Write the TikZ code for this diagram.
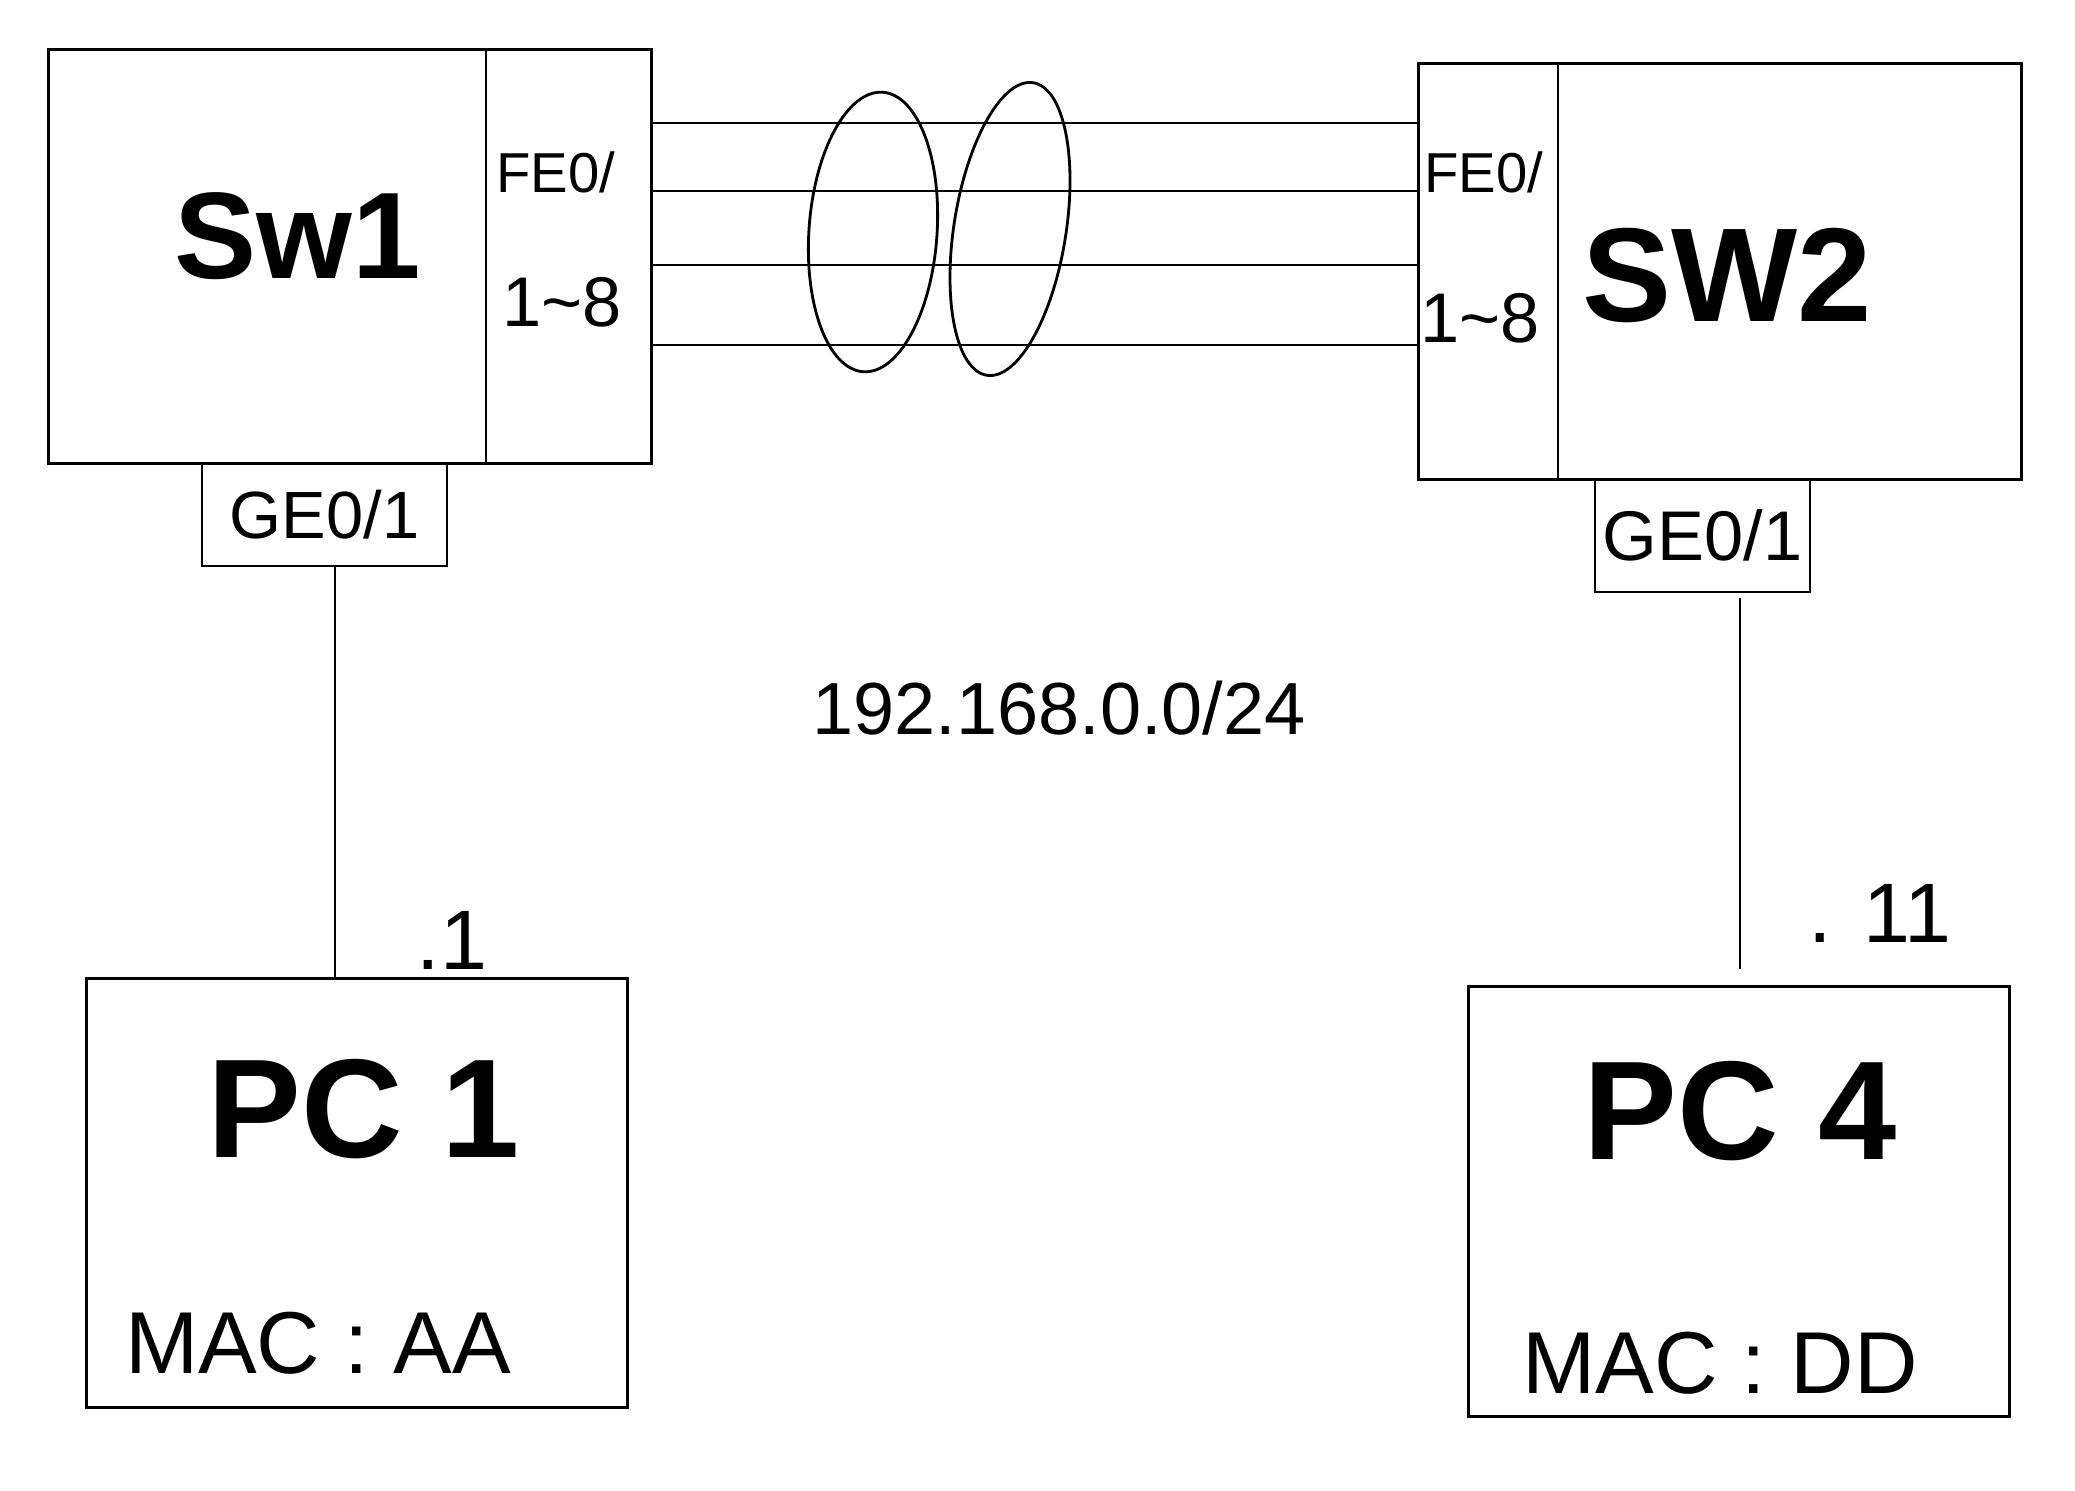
\documentclass[tikz,border=0pt]{standalone}
\usepackage{fontspec}
\setmainfont{Liberation Sans}
\usetikzlibrary{shapes.geometric, positioning, calc}
\tikzset{
	devbox/.style={rectangle, draw=black, line width=0.8pt, inner sep=0pt},
	portbox/.style={rectangle, draw=black, line width=0.8pt, inner sep=0pt},
	swname/.style={font=\fontsize{35}{42}\selectfont\bfseries},
	pcname/.style={font=\fontsize{40}{48}\selectfont\bfseries},
	hand/.style={font=\fontsize{20}{24}\selectfont},
	macnote/.style={font=\fontsize{25}{30}\selectfont},
	addrnote/.style={font=\fontsize{24}{28}\selectfont},
	link/.style={line width=0.8pt},
	bundle/.style={ellipse, draw=black, line width=0.8pt, inner sep=0pt},
}

\begin{document}
\begin{tikzpicture}[x=0.01cm, y=-0.01cm]
	\useasboundingbox (0,0) rectangle (2075,1491);
	% switches
	\node[devbox, minimum width=6.02cm, minimum height=4.13cm] (sw1) at (350,256.5) {};
	\node[portbox, minimum width=1.65cm, minimum height=4.13cm] (sw1port) at (568.5,256.5) {};
	\node[devbox, minimum width=6.02cm, minimum height=4.15cm] (sw2) at (1720,271.5) {};
	\node[portbox, minimum width=1.39cm, minimum height=4.15cm] (sw2port) at (1488.5,271.5) {};
	\node[swname] (sw1name) at (298,236) {Sw1};
	\node[swname, font=\fontsize{38}{44}\selectfont\bfseries] (sw2name) at (1727,275) {SW2};
	\node[hand, font=\fontsize{16}{20}\selectfont] (sw1fe) at (556,172) {FE0/};
	\node[hand] (sw1rng) at (562,302) {1\textasciitilde 8};
	\node[hand, font=\fontsize{16}{20}\selectfont] (sw2fe) at (1484,172) {FE0/};
	\node[hand] (sw2rng) at (1480,318) {1\textasciitilde 8};
	% uplink ports
	\node[portbox, minimum width=2.45cm, minimum height=1.03cm, hand, font=\fontsize{19}{23}\selectfont] (ge1) at (324.5,514.5) {GE0/1};
	\node[portbox, minimum width=2.15cm, minimum height=1.13cm, hand] (ge2) at (1702.5,535.5) {GE0/1};
	% parallel links
	\foreach \i/\y in {1/123, 2/191, 3/265, 4/345} {
		\draw[link] (sw1port.east |- 0,\y) -- (sw2port.west |- 0,\y);
	}
	\node[bundle, minimum width=1.28cm, minimum height=2.8cm, rotate=-4] (ring1) at (873,232) {};
	\node[bundle, minimum width=1.12cm, minimum height=2.96cm, rotate=-9] (ring2) at (1010,229) {};
	\node[addrnote, font=\fontsize{21}{25}\selectfont] (subnet) at (1059,708) {192.168.0.0/24};
	% hosts
	\node[devbox, minimum width=5.4cm, minimum height=4.28cm] (pc1) at (357,1193) {};
	\node[devbox, minimum width=5.4cm, minimum height=4.29cm] (pc4) at (1739,1201.5) {};
	\node[pcname] (pc1name) at (364,1109) {PC 1};
	\node[pcname] (pc4name) at (1740,1111) {PC 4};
	\node[macnote] (pc1mac) at (318,1343) {MAC : AA};
	\node[macnote] (pc4mac) at (1720,1363) {MAC : DD};
	\node[addrnote] (pc1ip) at (452,940) {.1};
	\node[addrnote] (pc4ip) at (1880,913) {. 11};
	\draw[link] (ge1.south -| 335,0) -- (pc1.north -| 335,0);
	\draw[link] (ge2.south -| 1740,0) ++(0,5) -- (1740,969);
\end{tikzpicture}
\end{document}
